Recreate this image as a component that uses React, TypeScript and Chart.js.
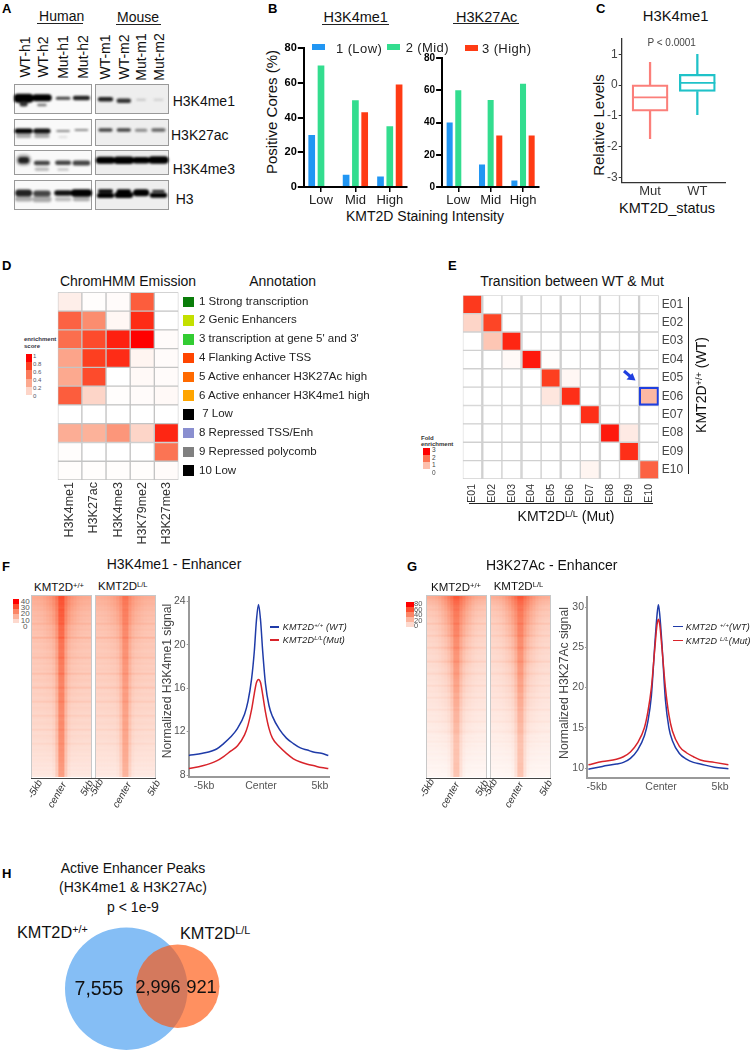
import React, { useEffect, useRef } from "react";
import { Chart, registerables } from "chart.js";

Chart.register(...registerables);
Chart.defaults.font.family = "'Liberation Sans', Arial, sans-serif";

// ---------- Panel A: blot bands [lane, y, half width, thickness, gray] ----------
const blotLanes = [0.5, 1.45, 2.55, 3.5, 4.75, 5.7, 6.6, 7.5];
const blotSamples = ["WT-h1", "WT-h2", "Mut-h1", "Mut-h2", "WT-m1", "WT-m2", "Mut-m1", "Mut-m2"];
const blotSampleX = [25, 43.3, 62.7, 82.7, 105, 124, 141, 159];
const blotH3K4me1 = [
  [0, 14.3, 0.3, 9, "#000"], [0, 20, 0.08, 5, "#333"], [1, 13.7, 0.33, 7, "#000"], [1, 21, 0.18, 2.5, "#777"],
  [2, 14.3, 0.3, 3, "#444"], [3, 14, 0.33, 4.5, "#222"],
  [4, 15.3, 0.28, 4.5, "#222"], [5, 16.7, 0.26, 4.5, "#333"], [6, 15.7, 0.2, 2, "#c4c4c4"], [7, 15.7, 0.2, 2, "#cdcdcd"],
];
const blotH3K27ac = [
  [0, 52, 0.3, 4, "#aaa"], [1, 52, 0.3, 4, "#aaa"], [2, 53, 0.18, 2, "#ddd"],
  [0, 47, 0.34, 5, "#000"], [1, 47, 0.32, 5, "#111"], [2, 47, 0.3, 2.2, "#888"], [3, 46, 0.3, 2.2, "#888"],
  [4, 46, 0.28, 3.5, "#444"], [5, 46, 0.28, 3.5, "#444"], [6, 46.3, 0.24, 3, "#888"], [7, 46, 0.28, 3.5, "#666"],
];
const blotH3K4me3 = [
  [0, 76, 0.1, 12, "#bbb"], [1, 85.3, 0.28, 3.5, "#bbb"], [2, 85.5, 0.22, 3, "#ccc"],
  [0, 76.3, 0.12, 6.5, "#222"], [1, 79, 0.3, 4.5, "#444"], [2, 78.7, 0.3, 4.5, "#444"], [3, 79, 0.33, 5, "#444"],
  [4, 76.3, 0.32, 7, "#000"], [5, 76.3, 0.34, 7.5, "#000"], [6, 76.3, 0.28, 6.5, "#000"], [7, 76, 0.33, 7.5, "#000"],
];
const blotH3 = [
  [0, 115, 0.32, 5, "#aaa"], [1, 115.3, 0.34, 6, "#aaa"], [2, 115.3, 0.32, 4, "#bbb"], [3, 115.3, 0.34, 4, "#aaa"],
  [0, 109, 0.26, 7, "#222"], [1, 109.5, 0.3, 6, "#444"], [2, 109, 0.32, 5.5, "#111"], [3, 109, 0.36, 7.5, "#000"],
  [4, 107, 0.3, 3.5, "#000"], [4, 111.5, 0.32, 5, "#000"], [5, 107, 0.28, 3.5, "#000"], [5, 111, 0.33, 6, "#000"],
  [6, 108.7, 0.24, 7, "#000"], [7, 107, 0.28, 1.8, "#111"], [7, 111.3, 0.32, 5, "#000"],
];

// ---------- Panel B ----------
const intensityCats = ["Low", "Mid", "High"];
const k4LowStain = [30, 7, 6];
const k4MidStain = [70, 50, 35];
const k4HighStain = [0, 43, 59];
const k27LowStain = [40, 14, 4];
const k27MidStain = [60, 54, 64];
const k27HighStain = [0, 32, 32];
const percentTicks = [0, 20, 40, 60, 80];

// ---------- Panel C ----------
const boxCats = ["Mut", "WT"];
const boxMin = [-1.74, -0.96];
const boxQ1 = [-0.85, -0.21];
const boxMedian = [-0.4, 0.07];
const boxQ3 = [0.01, 0.35];
const boxMax = [0.74, 1.0];
const levelTicks = [-3, -2, -1, 0, 1];

// ---------- Panel D ----------
const marks = ["H3K4me1", "H3K27ac", "H3K4me3", "H3K79me2", "H3K27me3"];
const emissionStates = ["1", "2", "3", "4", "5", "6", "7", "8", "9", "10"];
const emission = [
  [0.08, 0.01, 0.02, 0.7, 0],
  [0.68, 0.52, 0.04, 0.86, 0],
  [0.64, 0.76, 0.9, 1.0, 0.02],
  [0.42, 0.8, 0.86, 0.05, 0.02],
  [0.4, 0.76, 0, 0.03, 0.02],
  [0.7, 0.2, 0.01, 0.02, 0.03],
  [0, 0, 0, 0, 0],
  [0.38, 0.36, 0.48, 0.2, 0.88],
  [0.01, 0, 0, 0, 0.62],
  [0.01, 0.01, 0.01, 0.01, 0.02],
];
const annotationLabels = [
  "1 Strong transcription", "2 Genic Enhancers", "3 transcription at gene 5' and 3'", "4 Flanking Active TSS",
  "5 Active enhancer H3K27Ac high", "6 Active enhancer H3K4me1 high", " 7 Low", "8 Repressed TSS/Enh",
  "9 Repressed polycomb", "10 Low",
];
const annotationColors = ["#0a7d0a", "#c4e000", "#33cc33", "#ff4500", "#ff6a00", "#ffa500", "#000", "#8a8fd0", "#808080", "#000"];

// ---------- Panel E ----------
const transitionStates = ["E01", "E02", "E03", "E04", "E05", "E06", "E07", "E08", "E09", "E10"];
const transition = [
  [0.82, 0, 0, 0, 0, 0, 0, 0, 0, 0],
  [0.2, 0.78, 0, 0, 0, 0, 0, 0, 0, 0],
  [0, 0.27, 0.88, 0, 0, 0, 0, 0, 0, 0],
  [0, 0, 0.03, 0.92, 0.01, 0, 0, 0, 0, 0],
  [0, 0, 0, 0, 0.8, 0.04, 0, 0, 0, 0],
  [0, 0, 0, 0, 0.12, 0.85, 0, 0, 0, 0.33],
  [0, 0, 0, 0, 0, 0, 0.85, 0, 0, 0],
  [0, 0, 0, 0, 0, 0, 0, 0.92, 0.1, 0],
  [0, 0, 0, 0, 0, 0, 0, 0, 0.85, 0],
  [0, 0, 0, 0, 0, 0, 0.05, 0, 0, 0.68],
];

// ---------- Panels F, G heat textures ----------
const peakBgF = [
  .48,.49,.47,.45,.46,.44,.42,.43,.40,.39,
  .41,.38,.39,.37,.43,.37,.36,.38,.35,.36,
  .34,.44,.35,.36,.33,.34,.35,.33,.32,.34,
  .33,.38,.32,.31,.33,.30,.31,.32,.30,.37,
  .30,.29,.31,.30,.28,.29,.35,.28,.27,.29,
  .28,.26,.27,.32,.26,.25,.27,.26,.25,.24,
  .29,.25,.23,.24,.25,.23,.22,.27,.22,.21,
  .23,.22,.21,.20,.24,.20,.19,.20,.19,.18,
  .19,.17,.18,.17,.16,.17,.15,.16,.14,.15,
  .13,
];
const peakBgG = [
  .46,.47,.43,.40,.39,.36,.34,.36,.32,.31,
  .33,.30,.29,.28,.34,.27,.27,.28,.26,.25,
  .30,.25,.24,.25,.23,.23,.29,.23,.22,.23,
  .21,.21,.22,.27,.20,.21,.20,.19,.20,.24,
  .19,.18,.19,.18,.17,.22,.17,.17,.18,.16,
  .16,.20,.15,.16,.15,.15,.14,.18,.14,.13,
  .14,.13,.13,.16,.12,.12,.11,.12,.14,.11,
  .10,.11,.10,.12,.09,.10,.09,.09,.08,.09,
  .08,.07,.08,.07,.07,.06,.07,.06,.06,.05,
  .05,
];
const coreProfile = [0, 0, 0, 0, 0, 0, 0, .06, .3, .8, .8, .3, .06, 0, 0, 0, 0, 0, 0, 0];
const wideProfile = [0, .02, .05, .1, .2, .35, .5, .7, .85, 1, 1, .85, .7, .5, .35, .2, .1, .05, .02, 0];
const coreZonesF = [.2, .25, .3, .33, .35, .35, .35, .38, .38, .4, .4, .42, .42];
const wideZonesF = [.2, .18, .12, .08, .06, .05, .04, .03, .02, .02, .02, .01, 0];
const coreZonesG = [.05, .1, .15, .18, .2, .22, .22, .22, .22, .22, .22, .25, .28];
const wideZonesG = [.3, .26, .22, .18, .15, .12, .1, .08, .06, .05, .03, .02, .01];

// ---------- Panels F, G profiles ----------
const kbF = [-5, -4, -3, -2.5, -2, -1.5, -1, -0.75, -0.5, -0.3, -0.15, 0, 0.15, 0.3, 0.5, 0.75, 1, 1.5, 2, 2.5, 3, 3.5, 4, 4.5, 5];
const k4WT = [9.8, 10.0, 10.4, 10.9, 11.5, 12.3, 13.6, 14.8, 16.8, 19.4, 22.2, 23.7, 22.2, 19.4, 16.4, 14.4, 13.4, 12.2, 11.4, 10.9, 10.5, 10.3, 10.1, 10.0, 9.8];
const k4Mut = [8.6, 8.85, 9.3, 9.7, 10.2, 10.7, 11.7, 12.6, 14.0, 15.5, 16.5, 16.8, 16.5, 15.4, 13.8, 12.3, 11.4, 10.6, 10.0, 9.5, 9.2, 9.0, 8.85, 8.7, 8.6];
const kbG = [-5, -4, -3, -2.5, -2, -1.5, -1, -0.75, -0.5, -0.25, -0.1, 0, 0.1, 0.25, 0.5, 0.75, 1, 1.5, 2, 2.5, 3, 4, 5];
const k27WT = [9.85, 10.2, 10.5, 10.7, 11.2, 12.2, 14, 15.8, 19, 25.5, 29, 30.3, 29, 25.5, 18.5, 15, 13.4, 11.8, 11.1, 10.7, 10.5, 10.1, 9.9];
const k27Mut = [10.4, 10.8, 11.1, 11.4, 12, 13.1, 15, 17, 20, 25, 27.8, 28.5, 27.8, 25, 20, 16.6, 14.6, 12.7, 11.9, 11.4, 11, 10.7, 10.4];
const k4YTicks = [8, 12, 16, 20, 24];
const k27YTicks = [10, 15, 20, 25, 30];
const kbLabels = ["-5kb", "Center", "5kb"];
const kbTicksF = [-3.9, 0.18, 4.4];
const kbTicksG = [-4.4, 0.19, 4.4];

// ---------- Panel H ----------
const vennSets = ["KMT2D+/+", "KMT2DL/L"];
const vennX = [126.3, 177.7];
const vennY = [988.7, 986.3];
const vennR = [61.3, 41.7];

// ---------- helpers ----------
const STOPS: [number, number[]][] = [
  [0, [255, 255, 255]], [0.2, [253, 213, 200]], [0.4, [252, 169, 143]],
  [0.6, [251, 122, 90]], [0.8, [253, 63, 32]], [1, [255, 0, 0]],
];
function heat(v: number) {
  const t = Math.max(0, Math.min(1, v));
  for (let i = 1; i < STOPS.length; i++) {
    if (t <= STOPS[i][0]) {
      const [a, ca] = STOPS[i - 1];
      const [b, cb] = STOPS[i];
      const f = (t - a) / (b - a);
      const c = ca.map((x, k) => Math.round(x + (cb[k] - x) * f));
      return `rgb(${c[0]},${c[1]},${c[2]})`;
    }
  }
  return "rgb(255,0,0)";
}
type Rect = { x: number; y: number; w: number; h: number };
type Area = { l: number; t: number; r: number; b: number };
// The axis boxes take exactly the margins round the plot area, so the plot area lands where the picture has it.
const pad = (c: Rect, a: Area, rightY = false) => ({
  autoPadding: false,
  padding: { left: rightY ? a.l - c.x : 0, top: a.t - c.y, right: rightY ? 0 : c.x + c.w - a.r, bottom: 0 },
});
const yFit = (c: Rect, a: Area, rightY = false) => (s: any) => { s.width = rightY ? c.x + c.w - a.r : a.l - c.x; };
const xFit = (c: Rect, a: Area) => (s: any) => { s.height = c.y + c.h - a.b; };
const ticksAt = (vals: number[]) => (s: any) => { s.ticks = vals.map((value) => ({ value })); };
const noGrid = { display: false, drawTicks: false };
const base = {
  responsive: false,
  animation: false,
  events: [],
  plugins: { legend: { display: false }, tooltip: { enabled: false } },
};

function barConfig(c: Rect, a: Area, low: number[], mid: number[], high: number[], barPct: number, catPct: number, yFont: number) {
  const ds = (data: number[], color: string) => ({ data, backgroundColor: color, barPercentage: barPct, categoryPercentage: catPct });
  return {
    type: "bar",
    data: {
      labels: intensityCats,
      datasets: [ds(low, "#2196f3"), ds(mid, "#33dd8f"), ds(high, "#ff3b14")],
    },
    options: {
      ...base,
      layout: pad(c, a),
      scales: {
        x: {
          afterFit: xFit(c, a),
          grid: { display: true, offset: false, drawOnChartArea: false, tickLength: 5, color: "#000", lineWidth: 1.5 },
          border: { color: "#000", width: 2 },
          ticks: { color: "#222", font: { size: 13 }, padding: 1, maxRotation: 0, minRotation: 0, autoSkip: false },
        },
        y: {
          min: 0, max: 80, afterFit: yFit(c, a), afterBuildTicks: ticksAt(percentTicks),
          grid: { drawOnChartArea: false, tickLength: 6, color: "#000", lineWidth: 2 },
          border: { color: "#000", width: 2 },
          ticks: { color: "#000", font: { size: yFont, weight: "bold" }, padding: 1, callback: (v: number) => String(v), autoSkip: false },
        },
      },
    },
  };
}

function boxConfig(c: Rect, a: Area) {
  const colors = ["#fb7f7a", "#1fc2c8"];
  const idx = boxCats.map((_, i) => i);
  return {
    type: "bar",
    data: {
      datasets: [
        { data: idx.map((i) => ({ x: i, y: [boxMin[i], boxQ1[i]] })), backgroundColor: colors, barThickness: 1.6, borderWidth: 0 },
        { data: idx.map((i) => ({ x: i, y: [boxQ3[i], boxMax[i]] })), backgroundColor: colors, barThickness: 1.6, borderWidth: 0 },
        { data: idx.map((i) => ({ x: i, y: [boxQ1[i], boxQ3[i]] })), backgroundColor: "rgba(0,0,0,0)", borderColor: colors, borderWidth: 1.6, borderSkipped: false, barThickness: 36 },
        { type: "scatter", data: idx.map((i) => ({ x: i, y: boxMedian[i] })), pointStyle: "line", pointRadius: 18, borderColor: colors, pointBorderColor: colors, pointBorderWidth: 1.6, borderWidth: 1.6 },
      ],
    },
    options: {
      ...base,
      layout: pad(c, a),
      datasets: { bar: { grouped: false } },
      scales: {
        x: {
          type: "linear", offset: false, min: -0.6, max: 1.6, afterFit: xFit(c, a), afterBuildTicks: ticksAt([0, 1]),
          grid: noGrid, border: { color: "#333", width: 1.3 },
          ticks: { color: "#333", font: { size: 13 }, padding: 1, callback: (v: number) => boxCats[v], maxRotation: 0, minRotation: 0, autoSkip: false },
        },
        y: {
          min: -3.17, max: 1.52, afterFit: yFit(c, a), afterBuildTicks: ticksAt(levelTicks),
          grid: { drawOnChartArea: false, tickLength: 3, color: "#333", lineWidth: 1 }, border: { color: "#333", width: 1.3 },
          ticks: { color: "#444", font: { size: 12 }, padding: 1, callback: (v: number) => String(v), autoSkip: false },
        },
      },
    },
  };
}

function cellConfig(c: Rect, a: Area, rows: string[], cols: string[], matrix: number[][], opts: { line: string; thick: boolean; rowLabels: boolean; xFont: number; xPad: number; highlight?: [number, number] }) {
  const datasets: any[] = cols.map((_, ci) => ({
    order: 2,
    data: rows.map(() => [ci, ci + 1]),
    backgroundColor: rows.map((_, ri) => heat(matrix[ri][ci])),
    borderColor: opts.line,
    borderWidth: opts.thick ? { left: ci % 2 === 1 ? 1.5 : 1, right: ci % 2 === 0 ? 1.5 : 1, top: 1, bottom: 1 } : 1,
    borderSkipped: false,
  }));
  if (opts.highlight) {
    const [hr, hc] = opts.highlight;
    datasets.push({
      order: 1,
      data: rows.map((_, ri) => (ri === hr ? [hc, hc + 1] : null)),
      backgroundColor: "rgba(0,0,0,0)", borderColor: "#1f3fe0", borderWidth: 1.6, borderSkipped: false,
    });
  }
  const colTicks = cols.map((_, i) => i + 0.5);
  return {
    type: "bar",
    data: { labels: rows, datasets },
    options: {
      ...base,
      indexAxis: "y",
      layout: pad(c, a, true),
      datasets: { bar: { grouped: false, barPercentage: 1, categoryPercentage: 1 } },
      scales: {
        x: {
          type: "linear", position: "bottom", offset: false, min: 0, max: cols.length, afterFit: xFit(c, a), afterBuildTicks: ticksAt(colTicks),
          grid: noGrid, border: { display: false },
          ticks: { color: "#333", font: { size: opts.xFont }, padding: opts.xPad, minRotation: 90, maxRotation: 90, autoSkip: false, callback: (v: number) => cols[Math.floor(v)] },
        },
        y: {
          type: "category", position: "right", afterFit: yFit(c, a, true),
          grid: noGrid, border: { display: false },
          ticks: { display: opts.rowLabels, color: "#444", font: { size: 12 }, padding: 3, autoSkip: false },
        },
      },
    },
  };
}

function heatTexture(bg: number[], coreZ: number[], wideZ: number[], gain: number, bgGain: number) {
  const rowNames = bg.map((_, i) => String(i));
  return {
    type: "bar",
    data: {
      labels: rowNames,
      datasets: coreProfile.map((core, ci) => ({
        data: bg.map(() => [ci, ci + 1]),
        backgroundColor: bg.map((b, ri) => {
          const z = Math.floor((ri / bg.length) * coreZ.length);
          return heat(b * bgGain + gain * (coreZ[z] * core + wideZ[z] * wideProfile[ci]));
        }),
        borderWidth: 0,
      })),
    },
    options: {
      ...base,
      indexAxis: "y",
      layout: { autoPadding: false, padding: 0 },
      datasets: { bar: { grouped: false, barPercentage: 1, categoryPercentage: 1 } },
      scales: { x: { type: "linear", offset: false, min: 0, max: coreProfile.length, display: false }, y: { type: "category", display: false } },
    },
  };
}

function profileConfig(c: Rect, a: Area, kb: number[], wt: number[], mut: number[], xr: number[], yr: number[], yTicks: number[], xTicks: number[]) {
  const pts = (v: number[]) => kb.map((x, i) => ({ x, y: v[i] }));
  const ds = (v: number[], color: string) => ({ data: pts(v), borderColor: color, borderWidth: 1.5, pointRadius: 0, cubicInterpolationMode: "monotone", fill: false });
  return {
    type: "line",
    data: { datasets: [ds(mut, "#d8232a"), ds(wt, "#1f3ba8")] },
    options: {
      ...base,
      layout: pad(c, a),
      scales: {
        x: {
          type: "linear", min: xr[0], max: xr[1], afterFit: xFit(c, a), afterBuildTicks: ticksAt(xTicks),
          grid: noGrid, border: { color: "#999", width: 2 },
          ticks: { color: "#555", font: { size: 10.5 }, padding: 3, maxRotation: 0, minRotation: 0, autoSkip: false, callback: (v: number) => kbLabels[xTicks.indexOf(v)] },
        },
        y: {
          min: yr[0], max: yr[1], afterFit: yFit(c, a), afterBuildTicks: ticksAt(yTicks),
          grid: { drawOnChartArea: false, tickLength: 2, color: "#999", lineWidth: 1 }, border: { color: "#999", width: 2 },
          ticks: { color: "#555", font: { size: 10.5 }, padding: 1, autoSkip: false, callback: (v: number) => String(v) },
        },
      },
    },
  };
}

function blotConfig() {
  const all = [...blotH3K4me1, ...blotH3K27ac, ...blotH3K4me3, ...blotH3] as [number, number, number, number, string][];
  // Chart.js paints the first dataset last, so the list goes in reversed: the listed order is the paint order.
  return {
    type: "line",
    data: {
      datasets: all.slice().reverse().map(([lane, y, hw, th, gray]) => ({
        data: [{ x: blotLanes[lane] - hw, y }, { x: blotLanes[lane] + hw, y }],
        borderColor: gray, borderWidth: th, borderCapStyle: "round", pointRadius: 0,
      })),
    },
    options: {
      ...base,
      layout: { autoPadding: false, padding: 0 },
      scales: { x: { type: "linear", min: 0, max: 8.1, display: false }, y: { min: 0, max: 126, reverse: true, display: false } },
    },
  };
}

function vennConfig(c: Rect) {
  return {
    type: "bubble",
    data: {
      datasets: [
        { order: 2, label: vennSets[0], data: [{ x: vennX[0], y: vennY[0], r: vennR[0] }], backgroundColor: "#85bef5", borderWidth: 0 },
        { order: 1, label: vennSets[1], data: [{ x: vennX[1], y: vennY[1], r: vennR[1] }], backgroundColor: "rgba(255,85,10,0.65)", borderWidth: 0 },
      ],
    },
    options: {
      ...base,
      layout: { autoPadding: false, padding: 0 },
      scales: {
        x: { type: "linear", min: c.x, max: c.x + c.w, display: false },
        y: { type: "linear", min: c.y, max: c.y + c.h, reverse: true, display: false },
      },
    },
  };
}

function ChartBox({ r, make, filter }: { r: Rect; make: () => any; filter?: string }) {
  const ref = useRef<HTMLCanvasElement>(null);
  useEffect(() => {
    const chart = new Chart(ref.current as HTMLCanvasElement, make());
    return () => chart.destroy();
  }, []);
  return (
    <canvas
      ref={ref}
      width={r.w}
      height={r.h}
      style={{ position: "absolute", left: r.x, top: r.y, width: r.w, height: r.h, display: "block", filter }}
    />
  );
}

function T({ x, y, s, c = "#111", a = "c", rot = 0, b, i, ls, children }: any) {
  const tx = a === "c" ? "-50%" : "0";
  return (
    <div
      style={{
        position: "absolute", left: x, top: y, fontSize: s, color: c, lineHeight: 1, whiteSpace: "pre",
        fontWeight: b ? "bold" : "normal", fontStyle: i ? "italic" : "normal", letterSpacing: ls,
        transform: `translate(${tx},-50%) rotate(${rot}deg)`, transformOrigin: a === "c" ? "center" : "left center",
      }}
    >
      {children}
    </div>
  );
}
const Sup = ({ children }: any) => (
  <sup style={{ fontSize: "0.66em", lineHeight: 0, verticalAlign: "0.42em" }}>{children}</sup>
);
function B({ x, y, w, h, bg, border }: any) {
  return <div style={{ position: "absolute", left: x, top: y, width: w, height: h, background: bg, border, boxSizing: "border-box" }} />;
}

const blotRows = [
  { t: 84.3, b: 114.3, label: "H3K4me1", lx: 172.7, ly: 100.7 },
  { t: 118.7, b: 145.7, label: "H3K27ac", lx: 171, ly: 135 },
  { t: 149.7, b: 175, label: "H3K4me3", lx: 172.7, ly: 169 },
  { t: 180.3, b: 210, label: "H3", lx: 175.7, ly: 199 },
];

const rB1 = { x: 275, y: 40, w: 135, h: 170 };
const rB2 = { x: 415, y: 50, w: 130, h: 160 };
const rC = { x: 600, y: 30, w: 135, h: 170 };
const rD = { x: 50, y: 285, w: 135, h: 260 };
const rE = { x: 455, y: 285, w: 232, h: 225 };
const rF = { x: 165, y: 590, w: 175, h: 205 };
const rG = { x: 565, y: 590, w: 180, h: 205 };
const rV = { x: 55, y: 920, w: 175, h: 130 };

export default function App() {
  const heatLegendF = [1, 0.75, 0.55, 0.35, 0.18];
  return (
    <div style={{ position: "absolute", left: 0, top: 0, width: 755, height: 1050, background: "#fff", overflow: "hidden", fontFamily: "'Liberation Sans', Arial, sans-serif" }}>
      {/* A */}
      <T x={2} y={8} s={13} a="l" b c="#000">A</T>
      <T x={61.7} y={16} s={14}>Human</T>
      <B x={37} y={23} w={46} h={1} bg="#222" />
      <T x={138} y={17} s={14}>Mouse</T>
      <B x={115.7} y={23.5} w={45.5} h={1} bg="#222" />
      {blotSamples.map((s, i) => (
        <T key={s} x={blotSampleX[i]} y={56.5} s={14} rot={-90}>{s}</T>
      ))}
      {blotRows.map((r) => (
        <React.Fragment key={r.label}>
          <B x={14} y={r.t} w={77.7} h={r.b - r.t} bg="#f9f9f9" border="1px solid #999" />
          <B x={95} y={r.t} w={74} h={r.b - r.t} bg="#eeeeee" border="1px solid #999" />
          <T x={r.lx} y={r.ly} s={14} a="l">{r.label}</T>
        </React.Fragment>
      ))}
      <ChartBox r={{ x: 14, y: 84, w: 156, h: 126 }} make={blotConfig} filter="blur(0.9px)" />

      {/* B */}
      <T x={268} y={7.5} s={13} a="l" b c="#000">B</T>
      <T x={355.7} y={17.3} s={14.5}>H3K4me1</T>
      <B x={322} y={23.5} w={67} h={1} bg="#222" />
      <T x={486.7} y={16.7} s={14.5}>H3K27Ac</T>
      <B x={452.7} y={23.3} w={66.6} h={1} bg="#222" />
      <T x={270.7} y={111.7} s={15} rot={-90}>Positive Cores (%)</T>
      <T x={425} y={216} s={14}>KMT2D Staining Intensity</T>
      <ChartBox r={rB1} make={() => barConfig(rB1, { l: 303.8, t: 48, r: 407, b: 187 }, k4LowStain, k4MidStain, k4HighStain, 0.72, 0.81, 11)} />
      <ChartBox r={rB2} make={() => barConfig(rB2, { l: 442.1, t: 58, r: 539.2, b: 187 }, k27LowStain, k27MidStain, k27HighStain, 0.7, 0.8, 10)} />
      <B x={311.7} y={44} w={13} h={6} bg="#2196f3" />
      <T x={336} y={47.7} s={13} a="l" ls={0.4} c="#222">1 (Low)</T>
      <B x={387} y={44} w={13} h={6} bg="#33dd8f" />
      <T x={405.7} y={46.7} s={13} a="l" ls={0.4} c="#222">2 (Mid)</T>
      <B x={465} y={45} w={12.7} h={6} bg="#ff3b14" />
      <T x={482} y={47.7} s={13} a="l" ls={0.4} c="#222">3 (High)</T>

      {/* C */}
      <T x={596} y={8} s={13} a="l" b c="#000">C</T>
      <T x={675.7} y={16.3} s={14.8}>H3K4me1</T>
      <T x={671.7} y={42.7} s={10} c="#444">P &lt; 0.0001</T>
      <T x={598.3} y={125} s={15} rot={-90}>Relative Levels</T>
      <T x={667} y={208} s={14.5}>KMT2D_status</T>
      <ChartBox r={rC} make={() => boxConfig(rC, { l: 621.7, t: 34.3, r: 725.7, b: 182.7 })} />

      {/* D */}
      <T x={2} y={265} s={13} a="l" b c="#000">D</T>
      <T x={128} y={281} s={14}>ChromHMM Emission</T>
      <T x={282.7} y={281} s={14}>Annotation</T>
      <T x={24} y={339} s={6} a="l" b c="#334">enrichment</T>
      <T x={24} y={346} s={6} a="l" b c="#334">score</T>
      {[1, 0.8, 0.6, 0.4, 0.2].map((v, i) => (
        <B key={v} x={25.7} y={354 + i * 8.2} w={6} h={8.2} bg={heat(v)} />
      ))}
      {["1", "0.8", "0.6", "0.4", "0.2", "0"].map((t, i) => (
        <T key={t} x={33} y={356 + i * 8} s={6} a="l" c="#556">{t}</T>
      ))}
      <ChartBox r={rD} make={() => cellConfig(rD, { l: 57.7, t: 292.3, r: 178.5, b: 480 }, emissionStates, marks, emission, { line: "#c4c4c4", thick: false, rowLabels: false, xFont: 12.5, xPad: 2 })} />
      {annotationLabels.map((t, i) => (
        <React.Fragment key={t}>
          <B x={183.3} y={296.5 + i * 18.77} w={11} h={10.5} bg={annotationColors[i]} />
          <T x={199} y={301.7 + i * 18.77} s={11.5} a="l" c="#222">{t}</T>
        </React.Fragment>
      ))}

      {/* E */}
      <T x={448} y={265} s={13} a="l" b c="#000">E</T>
      <T x={572} y={280.7} s={14}>Transition between WT &amp; Mut</T>
      <ChartBox r={rE} make={() => cellConfig(rE, { l: 462.7, t: 292.3, r: 658.7, b: 479 }, transitionStates, transitionStates, transition, { line: "#d0d0d0", thick: true, rowLabels: true, xFont: 10.5, xPad: 5, highlight: [5, 9] })} />
      <svg style={{ position: "absolute", left: 618, top: 365, width: 24, height: 22 }} viewBox="0 0 24 22">
        <path d="M6 6 L13 12" stroke="#1f3fe0" strokeWidth="3" fill="none" />
        <path d="M17.5 15.5 L8.5 14.5 L14.5 8 Z" fill="#1f3fe0" />
      </svg>
      <B x={688} y={296.7} w={1.2} h={177.6} bg="#222" />
      <T x={701} y={385} s={14} rot={-90}>KMT2D<Sup>+/+</Sup> (WT)</T>
      <B x={469} y={503} w={183.7} h={1.2} bg="#222" />
      <T x={566} y={515.7} s={14}>KMT2D<Sup>L/L</Sup> (Mut)</T>
      <T x={421} y={438} s={6} a="l" b c="#333">Fold</T>
      <T x={421} y={443.7} s={6} a="l" b c="#333">enrichment</T>
      {[1, 0.62, 0.3].map((v, i) => (
        <B key={v} x={422.7} y={447.7 + i * 7.1} w={7.3} h={7.1} bg={heat(v)} />
      ))}
      {["3", "2", "1", "0"].map((t, i) => (
        <T key={t} x={432} y={450 + i * 7.5} s={6.5} a="l" c="#444">{t}</T>
      ))}

      {/* F */}
      <T x={2} y={566} s={13} a="l" b c="#000">F</T>
      <T x={174} y={564} s={14}>H3K4me1 - Enhancer</T>
      <T x={34} y={588} s={11.5} a="l">KMT2D<Sup>+/+</Sup></T>
      <T x={98} y={587} s={11.5} a="l">KMT2D<Sup>L/L</Sup></T>
      {heatLegendF.map((v, i) => (
        <B key={v} x={12.7} y={599 + i * 4.9} w={6.6} h={4.9} bg={heat(v)} />
      ))}
      {["40", "30", "20", "10", "0"].map((t, i) => (
        <T key={t} x={i === 4 ? 23 : 20.7} y={602 + i * 6.2} s={8} a="l" c="#555">{t}</T>
      ))}
      <ChartBox r={{ x: 31, y: 595, w: 60, h: 182 }} make={() => heatTexture(peakBgF, coreZonesF, wideZonesF, 1, 0.8)} filter="blur(0.5px)" />
      <ChartBox r={{ x: 95, y: 595, w: 60, h: 182 }} make={() => heatTexture(peakBgF, coreZonesF, wideZonesF, 0.72, 0.76)} filter="blur(0.5px)" />
      <B x={30.5} y={594.5} w={61} h={184} border="1px solid #c8c8c8" />
      <B x={94.5} y={594.5} w={61} h={184} border="1px solid #c8c8c8" />
      <B x={30.5} y={778} w={125} h={1} bg="#444" />
      <T x={35} y={789} s={10} i rot={-60} c="#333">-5kb</T>
      <T x={57} y={795} s={10} i rot={-60} c="#333">center</T>
      <T x={87} y={788} s={10} i rot={-60} c="#333">5kb</T>
      <T x={96} y={788} s={10} i rot={-60} c="#333">-5kb</T>
      <T x={122} y={795} s={10} i rot={-60} c="#333">center</T>
      <T x={154} y={788} s={10} i rot={-60} c="#333">5kb</T>
      <T x={167.3} y={681} s={12.2} rot={-90} c="#444">Normalized H3K4me1 signal</T>
      <ChartBox r={rF} make={() => profileConfig(rF, { l: 188.7, t: 595, r: 329.7, b: 776.7 }, kbF, k4WT, k4Mut, [-5, 5.1], [7.85, 24.36], k4YTicks, kbTicksF)} />
      <B x={270} y={626.3} w={9.3} h={1.4} bg="#1f3ba8" />
      <T x={282.7} y={627} s={9} a="l" i ls={0.2} c="#222">KMT2D<Sup>+/+</Sup> (WT)</T>
      <B x={270} y={639.3} w={9.3} h={1.4} bg="#d8232a" />
      <T x={282.7} y={640} s={9} a="l" i ls={0.2} c="#222">KMT2D<Sup>L/L</Sup>(Mut)</T>

      {/* G */}
      <T x={407} y={566} s={13} a="l" b c="#000">G</T>
      <T x={551.7} y={564.7} s={14}>H3K27Ac - Enhancer</T>
      <T x={431} y={588} s={11.5} a="l">KMT2D<Sup>+/+</Sup></T>
      <T x={493.7} y={587} s={11.5} a="l">KMT2D<Sup>L/L</Sup></T>
      {heatLegendF.map((v, i) => (
        <B key={v} x={406} y={601.7 + i * 5} w={7.7} h={5} bg={heat(v)} />
      ))}
      {["80", "60", "40", "20", "0"].map((t, i) => (
        <T key={t} x={414} y={604 + i * 5.6} s={7.5} a="l" c="#555">{t}</T>
      ))}
      <ChartBox r={{ x: 426, y: 595, w: 60, h: 182 }} make={() => heatTexture(peakBgG, coreZonesG, wideZonesG, 1, 0.8)} filter="blur(0.5px)" />
      <ChartBox r={{ x: 490, y: 595, w: 60, h: 182 }} make={() => heatTexture(peakBgG, coreZonesG, wideZonesG, 1, 0.8)} filter="blur(0.5px)" />
      <B x={425.5} y={594.5} w={61} h={184} border="1px solid #c8c8c8" />
      <B x={489.5} y={594.5} w={61} h={184} border="1px solid #c8c8c8" />
      <B x={425.5} y={778} w={125} h={1} bg="#444" />
      <T x={426.7} y={788} s={10} i rot={-60} c="#333">-5kb</T>
      <T x={450} y={795} s={10} i rot={-60} c="#333">center</T>
      <T x={481.7} y={788} s={10} i rot={-60} c="#333">5kb</T>
      <T x={490} y={788} s={10} i rot={-60} c="#333">-5kb</T>
      <T x={514} y={795} s={10} i rot={-60} c="#333">center</T>
      <T x={546} y={788} s={10} i rot={-60} c="#333">5kb</T>
      <T x={564.3} y={683} s={12.2} rot={-90} c="#444">Normalized H3K27Ac signal</T>
      <ChartBox r={rG} make={() => profileConfig(rG, { l: 587, t: 596.7, r: 729.8, b: 778.3 }, kbG, k27WT, k27Mut, [-5.1, 5.1], [8.72, 31.23], k27YTicks, kbTicksG)} />
      <B x={673} y={626} w={9.7} h={1.4} bg="#1f3ba8" />
      <T x={685.7} y={627} s={9} a="l" i ls={0.2} c="#222">KMT2D <Sup>+/+</Sup>(WT)</T>
      <B x={673} y={640} w={9.7} h={1.4} bg="#d8232a" />
      <T x={685.7} y={640.7} s={9} a="l" i ls={0.2} c="#222">KMT2D <Sup>L/L</Sup>(Mut)</T>

      {/* H */}
      <T x={2} y={872.7} s={13} a="l" b c="#000">H</T>
      <T x={133} y={867.7} s={14}>Active Enhancer Peaks</T>
      <T x={133} y={887} s={14}>(H3K4me1 &amp; H3K27Ac)</T>
      <T x={133} y={906.7} s={14}>p &lt; 1e-9</T>
      <T x={17} y={931.7} s={16.3} a="l">KMT2D<Sup>+/+</Sup></T>
      <T x={180} y={932.7} s={16.3} a="l">KMT2D<Sup>L/L</Sup></T>
      <ChartBox r={rV} make={() => vennConfig(rV)} />
      <T x={99} y={989} s={19.5}>7,555</T>
      <T x={158} y={987} s={18}>2,996</T>
      <T x={201.5} y={987} s={18.4}>921</T>
    </div>
  );
}
